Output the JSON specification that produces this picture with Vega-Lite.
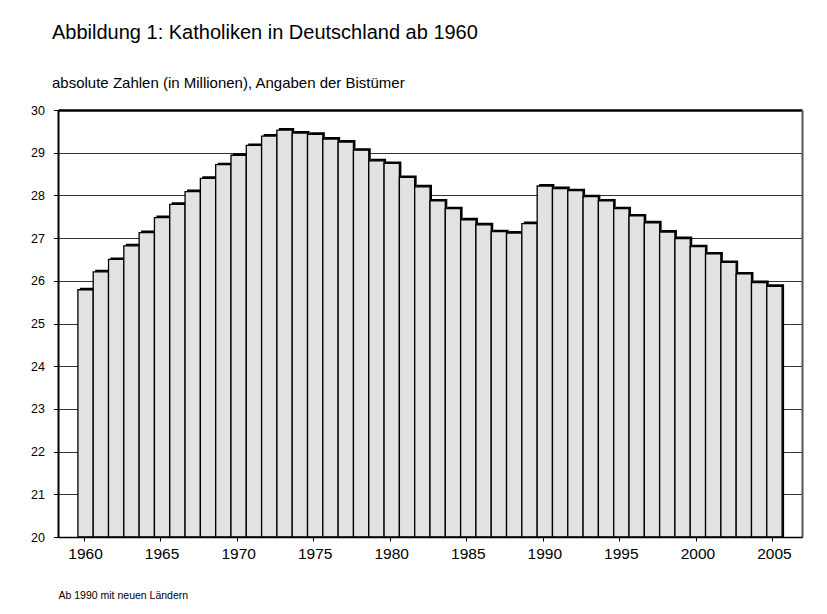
{
  "$schema": "https://vega.github.io/schema/vega-lite/v6.json",
  "autosize": "none",
  "padding": {"left": 58, "top": 110, "right": 25, "bottom": 77},
  "width": 744,
  "height": 427,
  "background": "white",
  "config": {
    "font": "Liberation Sans",
    "view": {"stroke": null},
    "title": {"font": "Liberation Sans", "subtitleFont": "Liberation Sans", "color": "black", "subtitleColor": "black"}
  },
  "title": {
    "text": "Abbildung 1: Katholiken in Deutschland ab 1960",
    "subtitle": "absolute Zahlen (in Millionen), Angaben der Bistümer",
    "anchor": "start",
    "frame": "group",
    "fontSize": 20,
    "fontWeight": "normal",
    "subtitleFontSize": 15,
    "subtitlePadding": 33,
    "offset": 13,
    "dx": -6
  },
  "data": {
    "values": [
      {"year": 1960, "v": 25.79}, {"year": 1961, "v": 26.21}, {"year": 1962, "v": 26.50},
      {"year": 1963, "v": 26.82}, {"year": 1964, "v": 27.13}, {"year": 1965, "v": 27.48},
      {"year": 1966, "v": 27.79}, {"year": 1967, "v": 28.09}, {"year": 1968, "v": 28.40},
      {"year": 1969, "v": 28.72}, {"year": 1970, "v": 28.94}, {"year": 1971, "v": 29.17},
      {"year": 1972, "v": 29.39}, {"year": 1973, "v": 29.53}, {"year": 1974, "v": 29.46},
      {"year": 1975, "v": 29.43}, {"year": 1976, "v": 29.32}, {"year": 1977, "v": 29.25},
      {"year": 1978, "v": 29.06}, {"year": 1979, "v": 28.81}, {"year": 1980, "v": 28.75},
      {"year": 1981, "v": 28.42}, {"year": 1982, "v": 28.20}, {"year": 1983, "v": 27.87},
      {"year": 1984, "v": 27.69}, {"year": 1985, "v": 27.43}, {"year": 1986, "v": 27.31},
      {"year": 1987, "v": 27.15}, {"year": 1988, "v": 27.12}, {"year": 1989, "v": 27.34},
      {"year": 1990, "v": 28.22}, {"year": 1991, "v": 28.16}, {"year": 1992, "v": 28.11},
      {"year": 1993, "v": 27.97}, {"year": 1994, "v": 27.87}, {"year": 1995, "v": 27.69},
      {"year": 1996, "v": 27.52}, {"year": 1997, "v": 27.36}, {"year": 1998, "v": 27.14},
      {"year": 1999, "v": 26.99}, {"year": 2000, "v": 26.80}, {"year": 2001, "v": 26.63},
      {"year": 2002, "v": 26.43}, {"year": 2003, "v": 26.16}, {"year": 2004, "v": 25.96},
      {"year": 2005, "v": 25.87}
    ]
  },
  "encoding": {
    "x": {
      "field": "year",
      "type": "ordinal",
      "scale": {
        "domain": [1959, 1960, 1961, 1962, 1963, 1964, 1965, 1966, 1967, 1968, 1969, 1970, 1971, 1972, 1973, 1974, 1975, 1976, 1977, 1978, 1979, 1980, 1981, 1982, 1983, 1984, 1985, 1986, 1987, 1988, 1989, 1990, 1991, 1992, 1993, 1994, 1995, 1996, 1997, 1998, 1999, 2000, 2001, 2002, 2003, 2004, 2005, 2006],
        "paddingInner": 0,
        "paddingOuter": 0.3
      },
      "axis": {
        "values": [1960, 1965, 1970, 1975, 1980, 1985, 1990, 1995, 2000, 2005],
        "labelAngle": 0,
        "labelFontSize": 15.5,
        "labelColor": "black",
        "labelPadding": 5,
        "tickSize": 4,
        "tickColor": "black",
        "tickWidth": 1,
        "domainColor": "black",
        "domainWidth": 1.5,
        "bandPosition": 0.4,
        "title": "Ab 1990 mit neuen Ländern",
        "titleFontSize": 10.5,
        "titleFontWeight": "normal",
        "titleColor": "black",
        "titleAnchor": "start",
        "titleAlign": "left",
        "titleBaseline": "alphabetic",
        "titleX": 0,
        "titleY": 61,
        "zindex": 1
      }
    }
  },
  "layer": [
    {
      "mark": {"type": "bar", "color": "black", "xOffset": 2, "yOffset": -2},
      "encoding": {
        "y": {
          "field": "v",
          "type": "quantitative",
          "scale": {"domain": [20, 30], "zero": false, "nice": false},
          "axis": {
            "values": [20, 21, 22, 23, 24, 25, 26, 27, 28, 29, 30],
            "title": null,
            "labelFontSize": 12.5,
            "labelColor": "black",
            "labelPadding": 9,
            "tickSize": 4.5,
            "tickColor": "black",
            "domainColor": "black",
            "domainWidth": 2,
            "grid": true,
            "gridColor": {"condition": {"test": "datum.value === 30", "value": "black"}, "value": "#333333"},
            "gridWidth": {"condition": {"test": "datum.value === 30", "value": 2.5}, "value": 1.2}
          }
        },
        "y2": {"datum": 20}
      }
    },
    {
      "mark": {"type": "bar", "color": "#e2e2e2", "stroke": "black", "strokeWidth": 1.3},
      "encoding": {
        "y": {
          "field": "v",
          "type": "quantitative",
          "axis": {
            "orient": "right",
            "title": null,
            "labels": false,
            "ticks": false,
            "grid": false,
            "domainColor": "#555555",
            "domainWidth": 2
          }
        },
        "y2": {"datum": 20}
      }
    }
  ],
  "resolve": {"axis": {"y": "independent"}}
}
